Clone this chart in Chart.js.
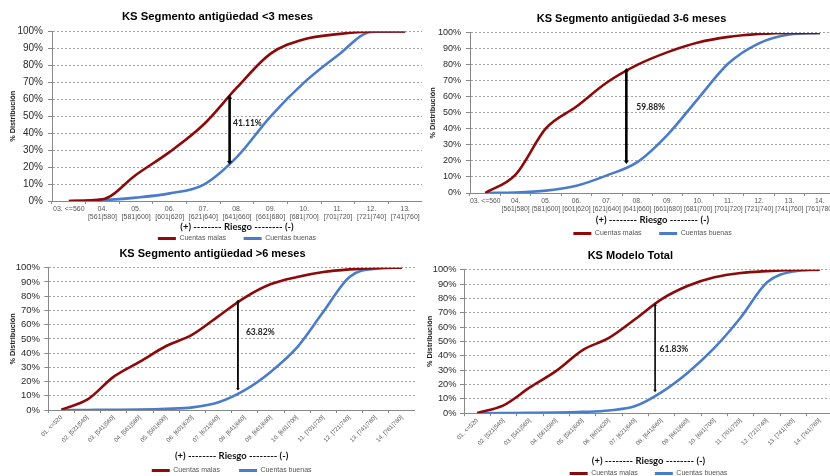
<!DOCTYPE html>
<html>
<head>
<meta charset="utf-8">
<script src="https://cdn.jsdelivr.net/npm/chart.js@4.4.1/dist/chart.umd.min.js"></script>
<style>
  html, body { margin: 0; padding: 0; background: #fff; overflow: hidden; }
  #wrap { position: relative; width: 830px; height: 476px; overflow: hidden; background: #fff; }
  canvas { position: absolute; }
</style>
</head>
<body>
<div id="wrap">
  <canvas id="c1" width="422" height="252" style="left:0px;top:0px"></canvas>
  <canvas id="c2" width="420" height="247" style="left:415px;top:0px"></canvas>
  <canvas id="c3" width="415" height="244" style="left:0px;top:240px"></canvas>
  <canvas id="c4" width="418" height="247" style="left:415px;top:240px"></canvas>
</div>
<script>
// Score bands (two-line labels for the top charts)
const bandsFrom03 = [
  ["03. <=560"], ["04.", "[561|580]"], ["05.", "[581|600]"], ["06.", "[601|620]"],
  ["07.", "[621|640]"], ["08.", "[641|660]"], ["09.", "[661|680]"], ["10.", "[681|700]"],
  ["11.", "[701|720]"], ["12.", "[721|740]"], ["13.", "[741|760]"]
];
const bandsFrom03To14 = bandsFrom03.concat([["14.", "[761|780]"]]);
// Score bands (rotated labels for the bottom charts)
const bandsFull = [
  "01. <=520", "02. [521|540]", "03. [541|560]", "04. [561|580]", "05. [581|600]",
  "06. [601|620]", "07. [621|640]", "08. [641|660]", "09. [661|680]", "10. [681|700]",
  "11. [701|720]", "12. [721|740]", "13. [741|760]", "14. [761|780]"
];

// Cumulative distribution (%) — segment < 3 months
const malasMenos3  = [0, 1, 15.5, 29, 45, 67, 87, 95.5, 98.5, 100, 100];
const buenasMenos3 = [0, 0.5, 2, 4.5, 9.5, 26, 50, 70, 86, 99.8, 100];
// Segment 3-6 months
const malas3a6  = [0, 11.5, 40.5, 54, 69, 80, 88, 94, 97.5, 99.3, 100, 100];
const buenas3a6 = [0, 0.3, 1.5, 4.5, 11, 19.3, 36.5, 59, 81, 93.5, 99, 100];
// Segment > 6 months
const malasMas6  = [0.3, 7.5, 23.5, 34, 45, 53, 66, 79, 88.5, 93.5, 97, 98.8, 99.7, 100];
const buenasMas6 = [0, 0.1, 0.2, 0.4, 0.9, 1.9, 5.5, 14, 27, 44, 69, 93.5, 99.3, 100];
// Whole model
const malasTotal  = [0.2, 5.5, 18, 29.5, 44, 52.5, 65.6, 79.5, 88.8, 94.7, 97.7, 99, 99.8, 100];
const buenasTotal = [0, 0.1, 0.2, 0.4, 0.9, 1.9, 5, 14.7, 28.4, 45.5, 66.7, 91.2, 98.8, 100];

// KS statistic of each chart (%), and where the gap is measured
const ksValues = [41.11, 59.88, 63.82, 61.83];
const ksTops   = [62.5, 78, 77.5, 76.5];   // upper end of the KS arrow (%)
const ksBands  = [4.78, 4.64, 6.74, 6.75]; // band position of the KS arrow

const RED = '#8c0a0a';
const BLUE = '#4a7cc9';
const SANS = '"Liberation Sans", Arial, sans-serif';
const CAL = 'Lato, "Liberation Sans", sans-serif';
Chart.defaults.font.family = SANS;

// Double-headed vertical arrow with the KS value beside it
const ksArrow = {
  id: 'ksArrow',
  afterDatasetsDraw(chart, args, o) {
    const { ctx } = chart;
    const x = chart.scales.x, y = chart.scales.y;
    const px = x.getPixelForValue(o.at);
    const yTop = y.getPixelForValue(o.top);
    const yBot = y.getPixelForValue(o.top - o.ks);
    const h = o.head;
    ctx.save();
    ctx.strokeStyle = '#000';
    ctx.fillStyle = '#000';
    ctx.lineWidth = o.width;
    ctx.beginPath();
    ctx.moveTo(px, yTop + h);
    ctx.lineTo(px, yBot - h);
    ctx.stroke();
    ctx.beginPath();
    ctx.moveTo(px, yTop); ctx.lineTo(px - h, yTop + h * 1.4); ctx.lineTo(px + h, yTop + h * 1.4);
    ctx.closePath(); ctx.fill();
    ctx.beginPath();
    ctx.moveTo(px, yBot); ctx.lineTo(px - h, yBot - h * 1.4); ctx.lineTo(px + h, yBot - h * 1.4);
    ctx.closePath(); ctx.fill();
    ctx.font = 'bold 8.5px ' + CAL;
    ctx.fillStyle = '#222';
    ctx.textAlign = 'left';
    ctx.textBaseline = 'middle';
    ctx.fillText(o.ks.toFixed(2) + '%', px + o.dx, y.getPixelForValue(o.labelAt));
    ctx.restore();
  }
};

function makeChart(id, p) {
  return new Chart(document.getElementById(id), {
    type: 'line',
    data: {
      labels: p.labels,
      datasets: [
        { label: 'Cuentas malas', data: p.malas, borderColor: RED, backgroundColor: RED,
          borderWidth: 2.6, pointRadius: 0, cubicInterpolationMode: 'monotone', fill: false },
        { label: 'Cuentas buenas', data: p.buenas, borderColor: BLUE, backgroundColor: BLUE,
          borderWidth: 2.6, pointRadius: 0, cubicInterpolationMode: 'monotone', fill: false }
      ]
    },
    options: {
      responsive: false,
      animation: false,
      events: [],
      layout: { padding: { left: p.padLeft, right: 0, top: 0, bottom: 0 } },
      plugins: {
        title: {
          display: true, text: p.title, color: '#000',
          font: { family: SANS, size: p.titleSize, weight: 'bold' },
          padding: { top: p.titleTop, bottom: p.titleBottom }
        },
        legend: {
          position: 'bottom', fullSize: false,
          labels: {
            boxWidth: 18, boxHeight: 3, padding: p.legendPad, color: '#555',
            font: { family: SANS, size: 7 },
            generateLabels(chart) {
              const items = Chart.defaults.plugins.legend.labels.generateLabels(chart);
              items.forEach((it, i) => {
                it.lineWidth = 0;
                if (i === 0) it.text = it.text + ' '.repeat(p.legendSpaces);
              });
              return items;
            }
          }
        },
        tooltip: { enabled: false },
        ksArrow: p.arrow
      },
      scales: {
        x: {
          offset: true,
          grid: { display: true, drawOnChartArea: false, drawTicks: true, tickLength: 3,
                  offset: true, color: '#888', tickColor: '#888', tickBorderDash: [] },
          border: { display: true, color: '#888', width: 1 },
          ticks: {
            autoSkip: false, minRotation: p.rot, maxRotation: p.rot, padding: 1, color: '#555',
            font: { family: SANS, size: p.xTickSize, lineHeight: 1.15 }
          },
          title: {
            display: true, text: '(+) -------- Riesgo -------- (-)', color: '#111',
            font: { family: CAL, size: 9.5, weight: 'bold' }, padding: { top: 0, bottom: 0 }
          },
          afterFit(s) { s.height = p.xHeight; s.paddingLeft = 0; s.paddingRight = 0; }
        },
        y: {
          min: 0, max: 100,
          grid: { color: '#a3a3a3', lineWidth: 1, drawTicks: true, tickLength: 4,
                  tickColor: '#888', tickBorderDash: [] },
          border: { display: true, color: '#888', width: 1, dash: [2, 2] },
          ticks: {
            stepSize: 10, autoSkip: false, padding: p.yTickPad, color: '#2a2a2a',
            font: { family: SANS, size: p.yTickSize },
            callback: v => v + '%'
          },
          title: {
            display: true, text: '% Distribución', color: '#222',
            font: { family: SANS, size: 7.3, weight: 'bold' },
            padding: { top: p.yTitlePad, bottom: 0 }
          },
          afterFit(s) { s.width = p.yWidth; s.paddingTop = 0; s.paddingBottom = 0; }
        }
      }
    },
    plugins: [ksArrow]
  });
}

makeChart('c1', {
  labels: bandsFrom03, malas: malasMenos3, buenas: buenasMenos3,
  title: 'KS Segmento antigüedad <3 meses', titleSize: 11.3, titleTop: 10, titleBottom: 8,
  padLeft: 13, yWidth: 39, yTitlePad: -4.4, yTickSize: 10, yTickPad: 5,
  xHeight: 32, xTickSize: 7, rot: 0, legendPad: 2, legendSpaces: 8,
  arrow: { at: ksBands[0], top: ksTops[0], ks: ksValues[0], width: 2.6, head: 2.6, dx: 3.5, labelAt: 45.7 }
});

makeChart('c2', {
  labels: bandsFrom03To14, malas: malas3a6, buenas: buenas3a6,
  title: 'KS Segmento antigüedad 3-6 meses', titleSize: 11, titleTop: 12, titleBottom: 7.7,
  padLeft: 13, yWidth: 42, yTitlePad: 0.9, yTickSize: 9, yTickPad: 5,
  xHeight: 33, xTickSize: 6.8, rot: 0, legendPad: 4, legendSpaces: 7,
  arrow: { at: ksBands[1], top: ksTops[1], ks: ksValues[1], width: 2.6, head: 2.4, dx: 10, labelAt: 53.3 }
});

makeChart('c3', {
  labels: bandsFull, malas: malasMas6, buenas: buenasMas6,
  title: 'KS Segmento antigüedad >6 meses', titleSize: 11, titleTop: 7.4, titleBottom: 7.1,
  padLeft: 10, yWidth: 38.3, yTitlePad: -1.1, yTickSize: 9.5, yTickPad: 4.3,
  xHeight: 51.4, xTickSize: 6, rot: 45, legendPad: 5.5, legendSpaces: 7,
  arrow: { at: ksBands[2], top: ksTops[2], ks: ksValues[2], width: 1.8, head: 1.8, dx: 8, labelAt: 55 }
});

makeChart('c4', {
  labels: bandsFull, malas: malasTotal, buenas: buenasTotal,
  title: 'KS Modelo Total', titleSize: 11, titleTop: 9.1, titleBottom: 7.4,
  padLeft: 12.6, yWidth: 36.4, yTitlePad: -2, yTickSize: 9.3, yTickPad: 3.5,
  xHeight: 53.4, xTickSize: 6, rot: 45, legendPad: 3.4, legendSpaces: 7,
  arrow: { at: ksBands[3], top: ksTops[3], ks: ksValues[3], width: 1.6, head: 1.8, dx: 4.5, labelAt: 44.7 }
});
</script>
</body>
</html>
